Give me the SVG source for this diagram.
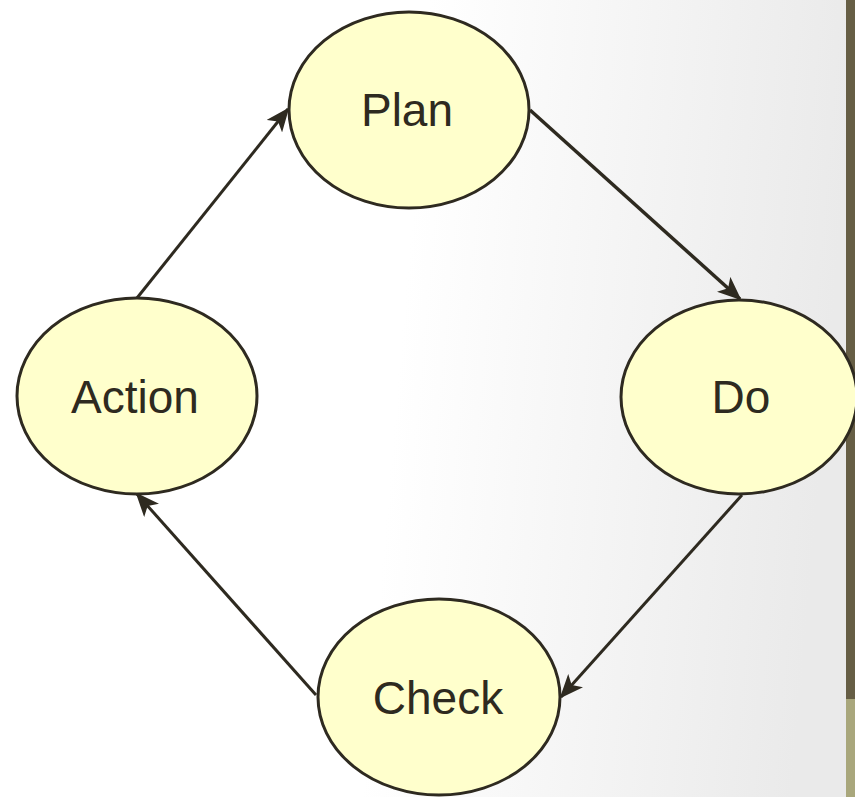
<svg xmlns="http://www.w3.org/2000/svg" width="855" height="797" viewBox="0 0 855 797">
<defs>
<linearGradient id="bg" x1="0" y1="0" x2="1" y2="0.08">
<stop offset="0.5" stop-color="#ffffff"/>
<stop offset="1" stop-color="#eaeaea"/>
</linearGradient>
<marker id="ah" viewBox="0 0 24 20" refX="22" refY="10" markerWidth="24" markerHeight="20" markerUnits="userSpaceOnUse" orient="auto">
<path d="M0,0 L24,10 L0,20 L6,10 Z" fill="#2e2a20"/>
</marker>
<style>
.node ellipse{fill:#ffffcc;stroke:#2e2a20;stroke-width:3}
.node text{font-family:"Liberation Sans",Arial,sans-serif;font-size:46px;fill:#2e2a20;text-anchor:middle}
.edge{stroke:#2e2a20;stroke-width:3;fill:none;marker-end:url(#ah)}
</style>
</defs>
<rect x="0" y="0" width="855" height="797" fill="url(#bg)"/>
<rect x="846" y="0" width="9" height="699" fill="#665e45"/>
<rect x="846" y="699" width="9" height="98" fill="#a9a77c"/>
<g id="connectors">
<line class="edge" x1="137" y1="298" x2="288" y2="109"/>
<line class="edge" x1="530" y1="110" x2="740" y2="299" style="stroke-width:3.5"/>
<line class="edge" x1="742" y1="495" x2="561" y2="697"/>
<line class="edge" x1="316" y1="695" x2="137" y2="494"/>
</g>
<g id="plan" class="node">
<ellipse cx="409" cy="110" rx="120" ry="98"/>
<text x="407" y="126">Plan</text>
</g>
<g id="do" class="node">
<ellipse cx="739" cy="397" rx="118" ry="97"/>
<text x="741" y="413">Do</text>
</g>
<g id="check" class="node">
<ellipse cx="439" cy="697" rx="121" ry="98"/>
<text x="438" y="714">Check</text>
</g>
<g id="action" class="node">
<ellipse cx="137" cy="396" rx="120" ry="98"/>
<text x="135" y="413">Action</text>
</g>
</svg>
